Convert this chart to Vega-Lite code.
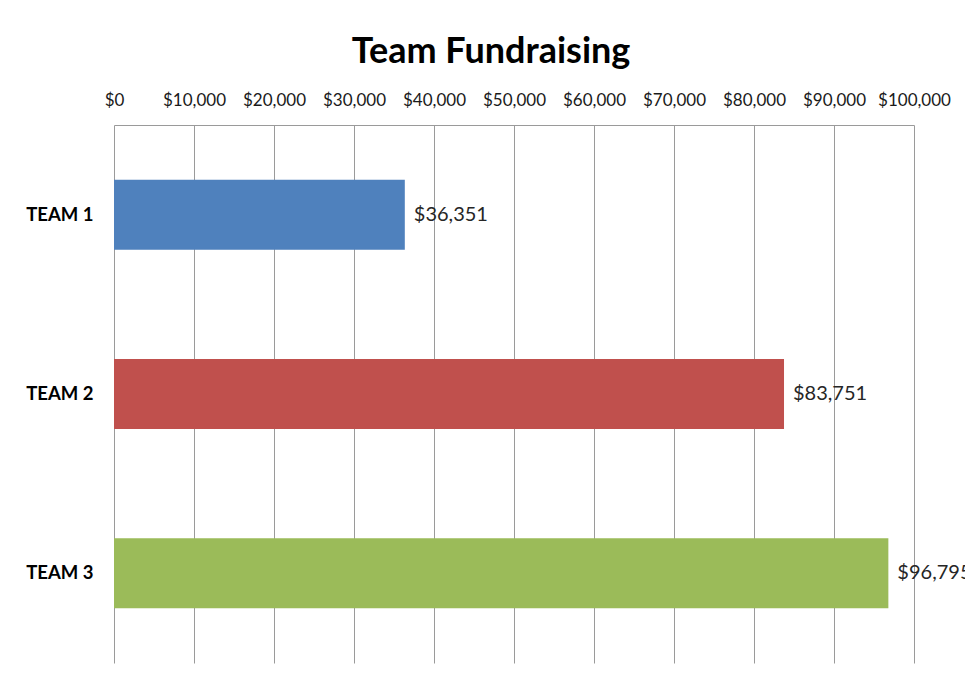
{
  "$schema": "https://vega.github.io/schema/vega-lite/v6.json",
  "autosize": {"type": "none"},
  "width": 800,
  "height": 538,
  "padding": {"left": 114, "top": 125, "right": 51, "bottom": 20},
  "background": "white",
  "title": {
    "text": "Team Fundraising",
    "font": "Lato",
    "fontSize": 36,
    "fontWeight": "bold",
    "color": "#000000",
    "anchor": "middle",
    "dx": -23,
    "offset": 20
  },
  "data": {
    "values": [
      {"team": "TEAM 1", "amount": 36351},
      {"team": "TEAM 2", "amount": 83751},
      {"team": "TEAM 3", "amount": 96795}
    ]
  },
  "encoding": {
    "y": {
      "field": "team",
      "type": "nominal",
      "sort": null,
      "scale": {"paddingInner": 0.61, "paddingOuter": 0.305},
      "axis": {
        "title": null,
        "domain": false,
        "ticks": false,
        "labelFont": "Lato",
        "labelFontSize": 18.5,
        "labelFontWeight": "bold",
        "labelColor": "#000000",
        "labelPadding": 21
      }
    },
    "x": {
      "field": "amount",
      "type": "quantitative",
      "scale": {"domain": [0, 100000], "nice": false},
      "axis": {
        "orient": "top",
        "title": null,
        "values": [0, 10000, 20000, 30000, 40000, 50000, 60000, 70000, 80000, 90000, 100000],
        "format": "$,.0f",
        "ticks": false,
        "domain": true,
        "domainColor": "#9a9a9a",
        "gridColor": "#9a9a9a",
        "gridOpacity": 1,
        "labelFont": "Lato",
        "labelFontSize": 17,
        "labelColor": "#1a1a1a",
        "labelPadding": 16,
        "labelFlush": false
      }
    }
  },
  "layer": [
    {
      "mark": {"type": "bar"},
      "encoding": {
        "color": {
          "field": "team",
          "type": "nominal",
          "scale": {"domain": ["TEAM 1", "TEAM 2", "TEAM 3"], "range": ["#4F81BD", "#C0504D", "#9BBB59"]},
          "legend": null
        }
      }
    },
    {
      "mark": {"type": "text", "align": "left", "dx": 9, "font": "Lato", "fontSize": 20, "color": "#262626"},
      "encoding": {
        "text": {"field": "amount", "type": "quantitative", "format": "$,.0f"}
      }
    }
  ],
  "config": {
    "view": {"stroke": null}
  }
}
